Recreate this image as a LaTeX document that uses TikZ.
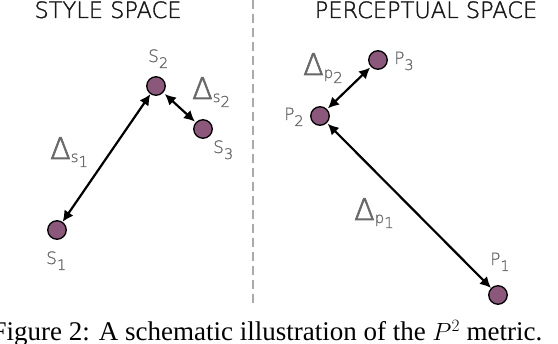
\documentclass[tikz,border=0pt]{standalone}
\usepackage{fontspec}
\setsansfont{Fira Sans}
\setmainfont{Liberation Serif}
\newfontfamily\thinfont{DejaVu Sans ExtraLight}[FakeBold=1.2]
\newfontfamily\ttlfont{DejaVu Sans ExtraLight}[FakeBold=1.6]
\newfontfamily\dltfont{DejaVu Sans ExtraLight}[FakeBold=2.2]
\usetikzlibrary{arrows.meta}
\definecolor{ptcol}{RGB}{139,88,124}
\definecolor{lblgray}{RGB}{105,105,105}
\definecolor{dashgray}{RGB}{170,170,170}
\newcommand\lbl[2]{#1\raisebox{-6pt}{\fontsize{14.5}{14.5}\selectfont #2}}
\newcommand\dl[2]{{\dltfont\fontsize{30}{30}\selectfont Δ}\raisebox{-3pt}{\fontsize{15}{15}\selectfont #1\raisebox{-5pt}{#2}}}
\tikzset{
  pt/.style={circle, minimum size=18.5pt, inner sep=0pt, draw=black, line width=1.3pt, fill=ptcol},
  arr/.style={line width=2.2pt, {Latex[length=11pt,width=11pt]}-{Latex[length=11pt,width=11pt]}},
  lab/.style={anchor=base west, inner sep=0pt, text=lblgray, font=\thinfont\fontsize{17}{17}\selectfont},
  dlab/.style={anchor=base west, inner sep=0pt, text=lblgray, font=\thinfont},
  ttl/.style={anchor=base, inner sep=0pt, text=black!90, font=\ttlfont\fontsize{22.5}{22.5}\selectfont},
}
\begin{document}
\begin{tikzpicture}[x=1pt,y=-1pt]
\useasboundingbox (0,0) rectangle (558,344);
\node[ttl] (t1) at (108,18) {STYLE SPACE};
\node[ttl] (t2) at (426,18) {PERCEPTUAL SPACE};
\coordinate (dtop) at (253,0);
\coordinate (dbot) at (253,307);
\draw[dashgray, line width=1.4pt, dash pattern=on 9pt off 5pt] (dtop) -- (dbot);
% style points
\node[pt] (s1) at (57,230) {};
\node[pt] (s2) at (156,86) {};
\node[pt] (s3) at (203,129) {};
% perceptual points
\node[pt] (p1) at (498,295) {};
\node[pt] (p2) at (320,116) {};
\node[pt] (p3) at (378,60) {};
% arrows
\draw[arr] (s1) -- (s2);
\draw[arr, shorten <=2pt, shorten >=1pt] (s2) -- (s3);
\draw[arr, shorten <=1pt, shorten >=1pt] (p2) -- (p3);
\draw[arr, shorten <=1pt] (p2) -- (p1);
% labels
\node[lab] (ls1) at (46,264) {\lbl{S}{1}};
\node[lab] (ls2) at (148,62) {\lbl{S}{2}};
\node[lab] (ls3) at (213,153) {\lbl{S}{3}};
\node[lab] (lp1) at (490,265) {\lbl{P}{1}};
\node[lab] (lp2) at (284,120) {\lbl{P}{2}};
\node[lab] (lp3) at (394,64) {\lbl{P}{3}};
% deltas
\node[dlab] (ds1) at (50,159) {\dl{s}{1}};
\node[dlab] (ds2) at (192,99) {\dl{s}{2}};
\node[dlab] (dp1) at (354,220) {\dl{p}{1}};
\node[dlab] (dp2) at (303,75) {\dl{p}{2}};
% caption
\node[anchor=base, inner sep=0pt, font=\fontsize{27}{27}\selectfont] (cap) at (267,341) {Figure 2: A schematic illustration of the $P^2$ metric.};
\end{tikzpicture}
\end{document}
